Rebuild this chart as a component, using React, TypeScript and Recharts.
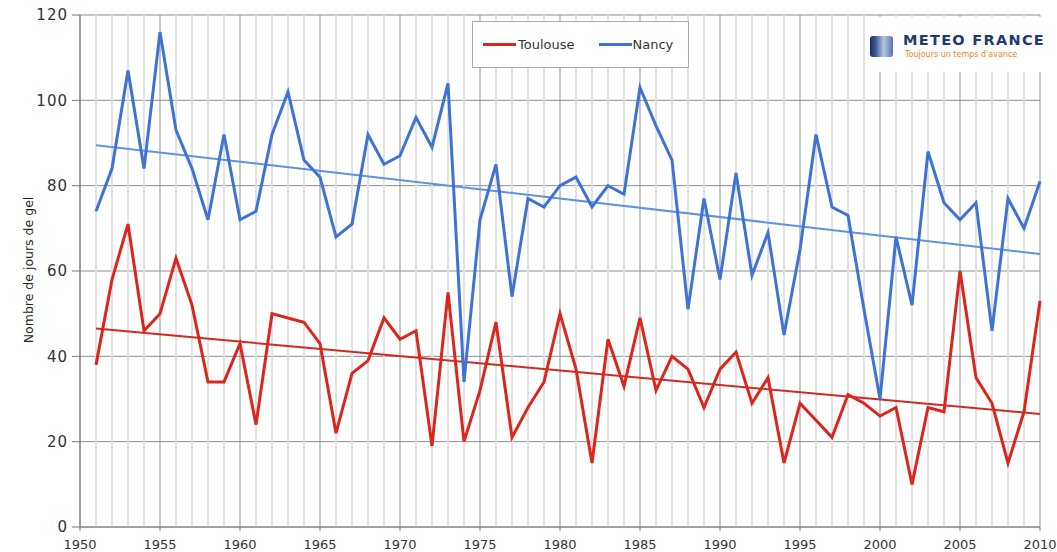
// App.tsx

import React from "react";
import {
  LineChart,
  Line,
  CartesianGrid,
  XAxis,
  YAxis,
  Legend,
  ReferenceLine,
} from "recharts";

// Nombre de jours de gel par an, Toulouse et Nancy, 1951-2010

const years = [
  1951, 1952, 1953, 1954, 1955, 1956, 1957, 1958, 1959, 1960,
  1961, 1962, 1963, 1964, 1965, 1966, 1967, 1968, 1969, 1970,
  1971, 1972, 1973, 1974, 1975, 1976, 1977, 1978, 1979, 1980,
  1981, 1982, 1983, 1984, 1985, 1986, 1987, 1988, 1989, 1990,
  1991, 1992, 1993, 1994, 1995, 1996, 1997, 1998, 1999, 2000,
  2001, 2002, 2003, 2004, 2005, 2006, 2007, 2008, 2009, 2010,
];

const toulouse = [
  38, 58, 71, 46, 50, 63, 52, 34, 34, 43,
  24, 50, 49, 48, 43, 22, 36, 39, 49, 44,
  46, 19, 55, 20, 32, 48, 21, 28, 34, 50,
  37, 15, 44, 33, 49, 32, 40, 37, 28, 37,
  41, 29, 35, 15, 29, 25, 21, 31, 29, 26,
  28, 10, 28, 27, 60, 35, 29, 15, 27, 53,
];

const nancy = [
  74, 84, 107, 84, 116, 93, 84, 72, 92, 72,
  74, 92, 102, 86, 82, 68, 71, 92, 85, 87,
  96, 89, 104, 34, 72, 85, 54, 77, 75, 80,
  82, 75, 80, 78, 103, 94, 86, 51, 77, 58,
  83, 59, 69, 45, 65, 92, 75, 73, 51, 30,
  68, 52, 88, 76, 72, 76, 46, 77, 70, 81,
];

// linear trends, ends only
const trendYears = [1951, 2010];
const trendToulouse = [46.5, 26.5];
const trendNancy = [89.5, 64];

const majorYears = [1950, 1955, 1960, 1965, 1970, 1975, 1980, 1985, 1990, 1995, 2000, 2005, 2010];
const minorYears = years.filter((y) => !majorYears.includes(y));
const yTicks = [0, 20, 40, 60, 80, 100, 120];

const RED = "#dc261c";
const BLUE = "#3f72d6";

const data = years.map((year, i) => ({
  year,
  toulouse: toulouse[i],
  nancy: nancy[i],
  trendT: trendYears.includes(year) ? trendToulouse[trendYears.indexOf(year)] : null,
  trendN: trendYears.includes(year) ? trendNancy[trendYears.indexOf(year)] : null,
}));

const font = "'DejaVu Sans', sans-serif";

const LegendBox = () => (
  <div
    style={{
      width: 217,
      height: 47,
      border: "1px solid #aaa",
      background: "#fff",
      boxSizing: "border-box",
      display: "flex",
      alignItems: "center",
      fontFamily: font,
      fontSize: 13,
      color: "#333",
      paddingLeft: 10,
    }}
  >
    <span style={{ display: "inline-block", width: 33, height: 3, background: RED }} />
    <span style={{ marginLeft: 2 }}>Toulouse</span>
    <span style={{ display: "inline-block", width: 33, height: 3, background: BLUE, marginLeft: 24 }} />
    <span style={{ marginLeft: 1 }}>Nancy</span>
  </div>
);

const Logo = () => (
  <div
    style={{
      position: "absolute",
      left: 866,
      top: 17,
      width: 180,
      height: 55,
      background: "#fff",
    }}
  >
    <div
      style={{
        position: "absolute",
        left: 4,
        top: 19,
        width: 23,
        height: 21,
        borderRadius: 3,
        background: "linear-gradient(90deg, #1c2f5e 0%, #3e5c98 25%, #b8c6e0 60%, #5a74a8 100%)",
      }}
    />
    <div
      style={{
        position: "absolute",
        left: 37,
        top: 15,
        fontFamily: font,
        fontWeight: "bold",
        fontSize: 14.5,
        letterSpacing: 1.3,
        color: "#1f3a6e",
        whiteSpace: "nowrap",
      }}
    >
      METEO FRANCE
    </div>
    <div
      style={{
        position: "absolute",
        left: 39,
        top: 33,
        fontFamily: font,
        fontSize: 8,
        color: "#e8862a",
        whiteSpace: "nowrap",
      }}
    >
      Toujours un temps d'avance
    </div>
  </div>
);

const App = () => {
  return (
    <div style={{ position: "absolute", left: 0, top: 0, width: 1057, height: 552, background: "#fff" }}>
      <LineChart
        width={1057}
        height={552}
        data={data}
        margin={{ top: 15, right: 17, bottom: 0, left: 0 }}
      >
        {minorYears.map((y) => (
          <ReferenceLine key={y} x={y} stroke="#e2e2e2" strokeWidth={2} />
        ))}
        <CartesianGrid
          stroke="#8f8f8f"
          horizontalValues={yTicks}
          verticalValues={majorYears}
        />
        <XAxis
          dataKey="year"
          type="number"
          domain={[1950, 2010]}
          ticks={majorYears}
          stroke="#777"
          height={25}
          tickSize={4}
          tickMargin={9}
          tick={{ fontSize: 13, fontFamily: font, fill: "#333" }}
        />
        <YAxis
          domain={[0, 120]}
          ticks={yTicks}
          width={80}
          stroke="#777"
          tickSize={8}
          tickMargin={4}
          tick={{ fontSize: 15, fontFamily: font, fill: "#333", letterSpacing: 1 }}
          label={{
            value: "Nombre de jours de gel",
            angle: -90,
            position: "center",
            dx: -11,
            dy: -1,
            style: { fontSize: 12.5, fontFamily: font, fill: "#222" },
          }}
        />
        <Legend
          layout="horizontal"
          verticalAlign="middle"
          align="center"
          wrapperStyle={{ left: 472, top: 21, width: 219, height: 49 }}
          content={() => <LegendBox />}
        />
        <Line
          dataKey="trendN"
          stroke="#5b93e6"
          strokeWidth={2}
          dot={false}
          connectNulls
          legendType="none"
          isAnimationActive={false}
        />
        <Line
          dataKey="trendT"
          stroke="#d22a20"
          strokeWidth={2}
          dot={false}
          connectNulls
          legendType="none"
          isAnimationActive={false}
        />
        <Line
          dataKey="nancy"
          name="Nancy"
          stroke={BLUE}
          strokeWidth={3}
          dot={false}
          isAnimationActive={false}
        />
        <Line
          dataKey="toulouse"
          name="Toulouse"
          stroke={RED}
          strokeWidth={3}
          dot={false}
          isAnimationActive={false}
        />
      </LineChart>
      <Logo />
    </div>
  );
};

export default App;
